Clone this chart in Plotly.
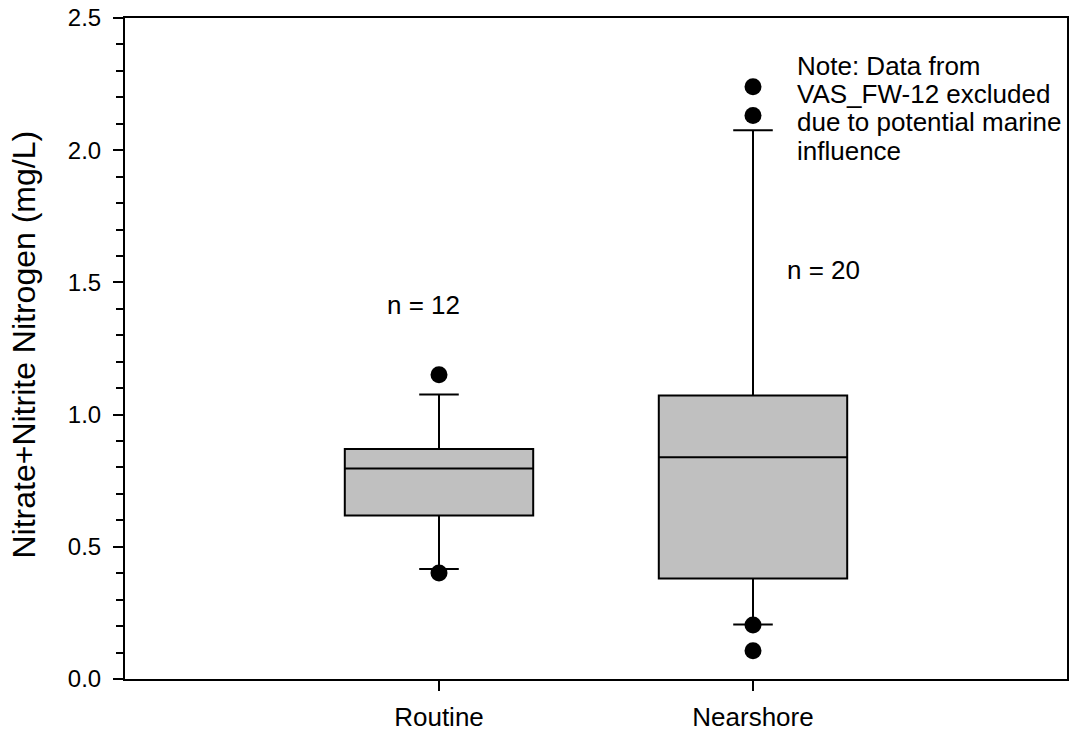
import plotly.graph_objects as go

# Summary statistics for each sampling group (mg/L)
groups = ["Routine", "Nearshore"]
q1 = [0.618, 0.380]
median = [0.796, 0.839]
q3 = [0.870, 1.072]
lower_fence = [0.416, 0.206]
upper_fence = [1.076, 2.075]

# Points beyond the whiskers
outlier_group = ["Routine", "Routine", "Nearshore", "Nearshore", "Nearshore", "Nearshore"]
outlier_value = [1.151, 0.401, 2.240, 2.131, 0.204, 0.107]

sample_counts = ["n = 12", "n = 20"]
count_x = [-0.048, 1.226]
count_y = [1.416, 1.548]

note_lines = ["Note: Data from", "VAS_FW-12 excluded",
              "due to potential marine", "influence"]
note_x = 1.134
note_y = [2.320, 2.213, 2.106, 1.998]

FONT = "Liberation Sans, Arial, sans-serif"

fig = go.Figure()

fig.add_trace(go.Box(
    x=groups,
    q1=q1,
    median=median,
    q3=q3,
    lowerfence=lower_fence,
    upperfence=upper_fence,
    width=0.6,
    whiskerwidth=0.21,
    fillcolor="#c0c0c0",
    line=dict(color="black", width=2),
    boxpoints=False,
    hoverinfo="skip",
    showlegend=False,
))

fig.add_trace(go.Scatter(
    x=outlier_group,
    y=outlier_value,
    mode="markers",
    marker=dict(color="black", size=17, line=dict(width=0)),
    showlegend=False,
    hoverinfo="skip",
))

for txt, xv, yv in zip(sample_counts, count_x, count_y):
    fig.add_annotation(x=xv, y=yv, text=txt, showarrow=False,
                       xanchor="center", yanchor="middle",
                       font=dict(family=FONT, size=26, color="black"))

# Note block, one annotation per line for tight line spacing
for line, yv in zip(note_lines, note_y):
    fig.add_annotation(x=note_x, y=yv, text=line, showarrow=False,
                       xanchor="left", yanchor="middle", align="left",
                       font=dict(family=FONT, size=26, color="black"))

# Vertical axis title, placed left of the tick labels
fig.add_annotation(xref="paper", yref="paper", x=0, y=0.506,
                   xanchor="center", yanchor="middle", xshift=-101,
                   text="Nitrate+Nitrite Nitrogen (mg/L)", textangle=-90,
                   showarrow=False,
                   font=dict(family=FONT, size=32, color="black"))

fig.update_layout(
    width=1069,
    height=732,
    margin=dict(l=125, r=2, t=18, b=53, autoexpand=False),
    paper_bgcolor="white",
    plot_bgcolor="white",
    font=dict(family=FONT, color="black"),
    showlegend=False,
)

fig.update_xaxes(
    type="category",
    categoryorder="array",
    categoryarray=groups,
    range=[-1, 2],
    automargin=False,
    showline=True,
    linecolor="black",
    linewidth=2,
    mirror=True,
    ticks="outside",
    ticklen=10,
    tickwidth=1.5,
    tickcolor="black",
    ticklabelstandoff=4,
    showgrid=False,
    zeroline=False,
    tickfont=dict(family=FONT, size=26, color="black"),
)

fig.update_yaxes(
    range=[0, 2.5],
    dtick=0.5,
    tick0=0,
    tickformat=".1f",
    automargin=False,
    showline=True,
    linecolor="black",
    linewidth=2,
    mirror="ticks",
    ticks="outside",
    ticklen=10,
    tickwidth=1.5,
    tickcolor="black",
    ticklabelstandoff=7,
    minor=dict(dtick=0.1, ticks="outside", ticklen=7, tickwidth=1.5,
               tickcolor="black", showgrid=False),
    showgrid=False,
    zeroline=False,
    tickfont=dict(family=FONT, size=24, color="black"),
)

fig.write_html("out.html")
